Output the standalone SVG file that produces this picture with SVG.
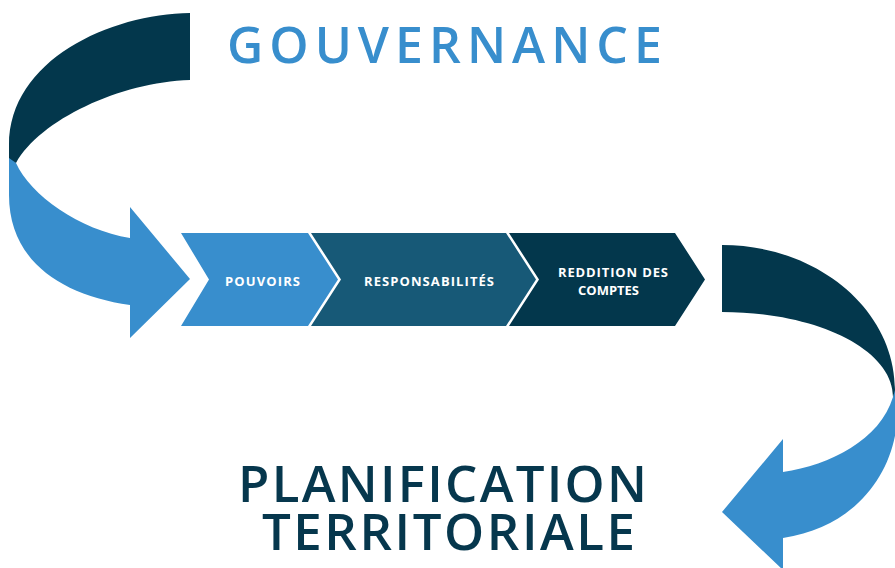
<svg xmlns="http://www.w3.org/2000/svg" width="895" height="568" viewBox="0 0 895 568">
<style>
.light{fill:#388ECD}
.mid{fill:#175977}
.dark{fill:#03374C}
.lbl{font-family:"Open Sans","Liberation Sans",sans-serif;font-weight:700;fill:#FFFFFF;font-size:13px}
.title{font-family:"Open Sans","Liberation Sans",sans-serif;font-weight:600}
</style>
<rect width="895" height="568" fill="#FFFFFF"/>
<g id="connectors">
  <g id="arrow-left">
    <path class="light" d="M9,156 L9,195 C9,260 60,295 130,305 L130,338 L190,279 L130,207 L130,238 C80,230 30,195 16,163 Z"/>
    <path class="dark" d="M190,13 C110,14 9,60 9,145 L9,158 L16,163 C40,120 120,82 190,80 Z"/>
  </g>
  <g id="arrow-right">
    <path class="light" d="M895,385 C908,450 870,525 783,538 L783,570 L722,512 L783,439 L783,472 C830,465 880,440 893,397 Z"/>
    <path class="dark" d="M722,245 C817.5,245 895,310 895,390 L893,397 C893,349 816,312 722,312 Z"/>
  </g>
</g>
<g id="node-gouvernance">
  <text class="title" x="227" y="63" font-size="50" fill="#388ECD" textLength="435" lengthAdjust="spacing">GOUVERNANCE</text>
</g>
<g id="node-pouvoirs">
  <polygon class="light" points="181,233 308,233 338,279.5 308,326 181,326 209,279.5"/>
  <text class="lbl" x="225" y="285.5" textLength="75" lengthAdjust="spacing">POUVOIRS</text>
</g>
<g id="node-responsabilites">
  <polygon class="mid" points="311,233 506,233 536,279.5 506,326 311,326 341,279.5"/>
  <text class="lbl" x="364" y="286" textLength="130" lengthAdjust="spacing">RESPONSABILITÉS</text>
</g>
<g id="node-reddition">
  <polygon class="dark" points="509,233 675,233 705,279.5 675,326 509,326 539,279.5"/>
  <text class="lbl"><tspan x="558" y="276.5" textLength="110" lengthAdjust="spacing">REDDITION DES</tspan><tspan x="578" y="294.5" textLength="61" lengthAdjust="spacing">COMPTES</tspan></text>
</g>
<g id="node-planification">
  <text class="title" font-size="51" fill="#06374D"><tspan x="238" y="502" textLength="409" lengthAdjust="spacing">PLANIFICATION</tspan><tspan x="262" y="550" textLength="373" lengthAdjust="spacing">TERRITORIALE</tspan></text>
</g>
</svg>
